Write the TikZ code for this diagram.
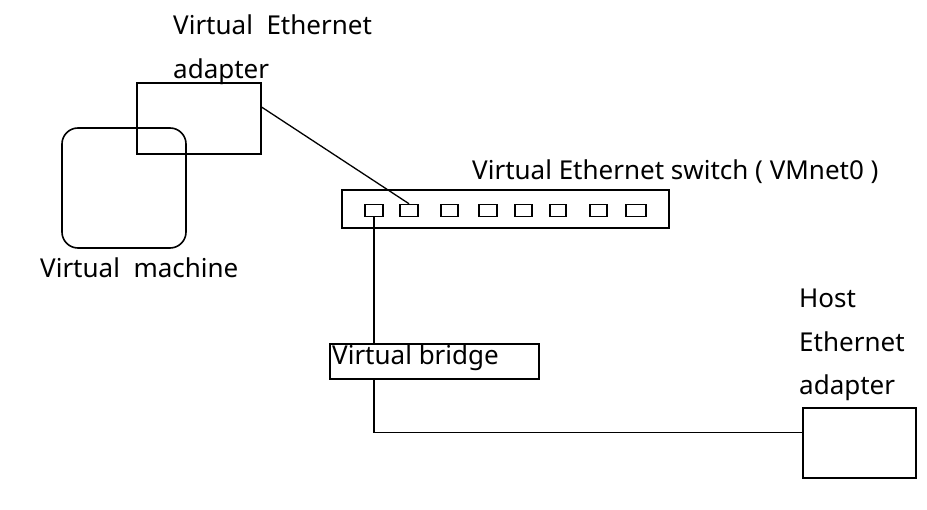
\documentclass[tikz,border=0pt]{standalone}
\usepackage{fontspec}
\setmainfont{Noto Sans}
\usetikzlibrary{calc}
\begin{document}
\begin{tikzpicture}[x=1pt,y=-1pt,
  box/.style={draw=black,line width=1.6pt,inner sep=0pt,minimum width=#1},
  port/.style={draw=black,line width=1.5pt,inner sep=0pt,minimum height=12pt,minimum width=#1},
  lbl/.style={inner sep=0pt,anchor=base west,text=black,font=\fontsize{26}{30}\selectfont},
  wire/.style={draw=black,line width=1.3pt}]
\useasboundingbox[fill=white] (0,0) rectangle (927,510);
% shapes
\node[box=124pt,minimum height=120pt,rounded corners=16pt] (vm) at (124,188) {};
\node[box=124pt,minimum height=71pt] (adp) at (199,118.5) {};
\node[box=327pt,minimum height=38pt] (sw) at (505.5,209) {};
\node[port=18pt] (p1) at (374,210.5) {};
\node[port=18pt] (p2) at (409,210.5) {};
\node[port=17pt] (p3) at (449.5,210.5) {};
\node[port=18pt] (p4) at (488,210.5) {};
\node[port=17pt] (p5) at (523.5,210.5) {};
\node[port=16pt] (p6) at (558,210.5) {};
\node[port=17pt] (p7) at (598.5,210.5) {};
\node[port=20pt] (p8) at (636,210.5) {};
\node[box=209pt,minimum height=35pt] (br) at (434.5,361.5) {};
\node[box=113pt,minimum height=70pt] (host) at (859.5,443) {};
% labels
\node[lbl] (t1) at (173,35) {Virtual~~Ethernet};
\node[lbl] (t2) at (173,79) {adapter};
\node[lbl] (t3) at (40,278) {Virtual~~machine};
\node[lbl] (t4) at (472,180) {Virtual Ethernet switch ( VMnet0 )};
\node[lbl] (t5) at (332,365) {Virtual bridge};
\node[lbl] (t6) at (799,308) {Host};
\node[lbl] (t7) at (799,352) {Ethernet};
\node[lbl] (t8) at (799,395) {adapter};
% connectors
\coordinate (a1) at ($(adp.north east)+(0,25)$);
\coordinate (h1) at ($(host.north west)+(0,25)$);
\draw[wire] (a1) -- (p2.north);
\draw[wire] (p1.south) -- (p1.south |- br.north);
\draw[wire] (p1.south |- br.south) |- (h1);
\end{tikzpicture}
\end{document}
